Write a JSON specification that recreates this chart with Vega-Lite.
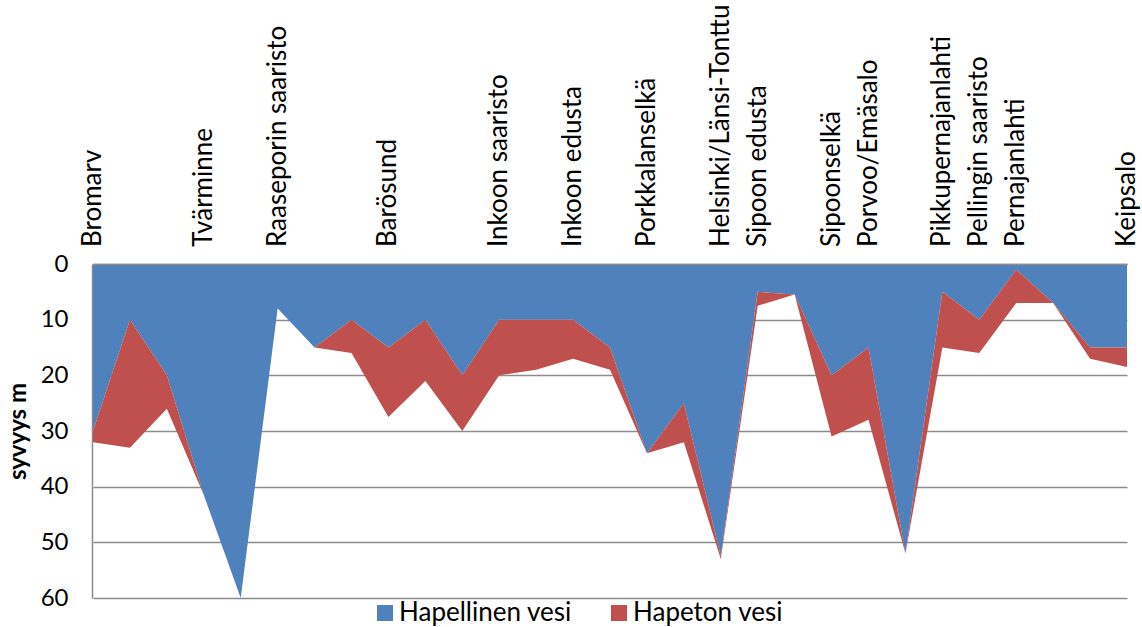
{
  "$schema": "https://vega.github.io/schema/vega-lite/v6.json",
  "width": 1034,
  "height": 334,
  "autosize": "none",
  "padding": {"left": 93, "top": 264, "right": 15, "bottom": 29},
  "background": "white",
  "config": {"view": {"stroke": null}, "font": "Lato"},
  "data": {
    "values": [
      {"pos": 0, "site": "Bromarv", "series": "Hapellinen vesi", "value": 30},
      {"pos": 0, "site": "Bromarv", "series": "Hapeton vesi", "value": 2},
      {"pos": 1, "site": "", "series": "Hapellinen vesi", "value": 10},
      {"pos": 1, "site": "", "series": "Hapeton vesi", "value": 23},
      {"pos": 2, "site": "", "series": "Hapellinen vesi", "value": 20},
      {"pos": 2, "site": "", "series": "Hapeton vesi", "value": 6},
      {"pos": 3, "site": "Tvärminne", "series": "Hapellinen vesi", "value": 41.5},
      {"pos": 3, "site": "Tvärminne", "series": "Hapeton vesi", "value": 0},
      {"pos": 4, "site": "", "series": "Hapellinen vesi", "value": 60},
      {"pos": 4, "site": "", "series": "Hapeton vesi", "value": 0},
      {"pos": 5, "site": "Raaseporin saaristo", "series": "Hapellinen vesi", "value": 8},
      {"pos": 5, "site": "Raaseporin saaristo", "series": "Hapeton vesi", "value": 0},
      {"pos": 6, "site": "", "series": "Hapellinen vesi", "value": 15},
      {"pos": 6, "site": "", "series": "Hapeton vesi", "value": 0},
      {"pos": 7, "site": "", "series": "Hapellinen vesi", "value": 10},
      {"pos": 7, "site": "", "series": "Hapeton vesi", "value": 6},
      {"pos": 8, "site": "Barösund", "series": "Hapellinen vesi", "value": 15},
      {"pos": 8, "site": "Barösund", "series": "Hapeton vesi", "value": 12.5},
      {"pos": 9, "site": "", "series": "Hapellinen vesi", "value": 10},
      {"pos": 9, "site": "", "series": "Hapeton vesi", "value": 11},
      {"pos": 10, "site": "", "series": "Hapellinen vesi", "value": 20},
      {"pos": 10, "site": "", "series": "Hapeton vesi", "value": 10},
      {"pos": 11, "site": "Inkoon saaristo", "series": "Hapellinen vesi", "value": 10},
      {"pos": 11, "site": "Inkoon saaristo", "series": "Hapeton vesi", "value": 10},
      {"pos": 12, "site": "", "series": "Hapellinen vesi", "value": 10},
      {"pos": 12, "site": "", "series": "Hapeton vesi", "value": 9},
      {"pos": 13, "site": "Inkoon edusta", "series": "Hapellinen vesi", "value": 10},
      {"pos": 13, "site": "Inkoon edusta", "series": "Hapeton vesi", "value": 7},
      {"pos": 14, "site": "", "series": "Hapellinen vesi", "value": 15},
      {"pos": 14, "site": "", "series": "Hapeton vesi", "value": 4},
      {"pos": 15, "site": "Porkkalanselkä", "series": "Hapellinen vesi", "value": 34},
      {"pos": 15, "site": "Porkkalanselkä", "series": "Hapeton vesi", "value": 0},
      {"pos": 16, "site": "", "series": "Hapellinen vesi", "value": 25},
      {"pos": 16, "site": "", "series": "Hapeton vesi", "value": 7},
      {"pos": 17, "site": "Helsinki/Länsi-Tonttu", "series": "Hapellinen vesi", "value": 52.5},
      {"pos": 17, "site": "Helsinki/Länsi-Tonttu", "series": "Hapeton vesi", "value": 0.5},
      {"pos": 18, "site": "Sipoon edusta", "series": "Hapellinen vesi", "value": 5},
      {"pos": 18, "site": "Sipoon edusta", "series": "Hapeton vesi", "value": 2.5},
      {"pos": 19, "site": "", "series": "Hapellinen vesi", "value": 5.5},
      {"pos": 19, "site": "", "series": "Hapeton vesi", "value": 0},
      {"pos": 20, "site": "Sipoonselkä", "series": "Hapellinen vesi", "value": 20},
      {"pos": 20, "site": "Sipoonselkä", "series": "Hapeton vesi", "value": 11},
      {"pos": 21, "site": "Porvoo/Emäsalo", "series": "Hapellinen vesi", "value": 15},
      {"pos": 21, "site": "Porvoo/Emäsalo", "series": "Hapeton vesi", "value": 13},
      {"pos": 22, "site": "", "series": "Hapellinen vesi", "value": 52},
      {"pos": 22, "site": "", "series": "Hapeton vesi", "value": 0},
      {"pos": 23, "site": "Pikkupernajanlahti", "series": "Hapellinen vesi", "value": 5},
      {"pos": 23, "site": "Pikkupernajanlahti", "series": "Hapeton vesi", "value": 10},
      {"pos": 24, "site": "Pellingin saaristo", "series": "Hapellinen vesi", "value": 10},
      {"pos": 24, "site": "Pellingin saaristo", "series": "Hapeton vesi", "value": 6},
      {"pos": 25, "site": "Pernajanlahti", "series": "Hapellinen vesi", "value": 1},
      {"pos": 25, "site": "Pernajanlahti", "series": "Hapeton vesi", "value": 6},
      {"pos": 26, "site": "", "series": "Hapellinen vesi", "value": 7},
      {"pos": 26, "site": "", "series": "Hapeton vesi", "value": 0},
      {"pos": 27, "site": "", "series": "Hapellinen vesi", "value": 15},
      {"pos": 27, "site": "", "series": "Hapeton vesi", "value": 2},
      {"pos": 28, "site": "Keipsalo", "series": "Hapellinen vesi", "value": 15},
      {"pos": 28, "site": "Keipsalo", "series": "Hapeton vesi", "value": 3.5}
    ]
  },
  "layer": [
    {
      "mark": {"type": "area", "interpolate": "linear"},
      "encoding": {
        "x": {
          "field": "pos",
          "type": "quantitative",
          "scale": {"domain": [0, 28], "nice": false, "zero": false},
          "axis": {"orient": "top", "labels": false, "ticks": false, "grid": false, "title": null, "domainColor": "#8c8c8c", "domainWidth": 1.5, "zindex": 1}
        },
        "y": {
          "field": "value",
          "type": "quantitative",
          "stack": "zero",
          "scale": {"domain": [0, 60], "reverse": true, "nice": false},
          "axis": {
            "values": [0, 10, 20, 30, 40, 50, 60],
            "title": "syvyys m",
            "ticks": false,
            "offset": 1,
            "labelPadding": 24,
            "labelFontSize": 24,
            "labelFont": "Lato",
            "labelColor": "black",
            "gridColor": "#8c8c8c",
            "gridWidth": 1.5,
            "domainColor": "#8c8c8c",
            "domainWidth": 1.5,
            "titleFont": "Lato",
            "titleFontSize": 24,
            "titleFontWeight": "bold",
            "titleColor": "black",
            "titleAngle": 270,
            "titleX": -74,
            "titleY": 167,
            "titleAlign": "center",
            "titleBaseline": "middle"
          }
        },
        "color": {
          "field": "series",
          "type": "nominal",
          "scale": {"domain": ["Hapellinen vesi", "Hapeton vesi"], "range": ["#4F81BD", "#C0504D"]},
          "legend": {
            "orient": "none",
            "legendX": 279,
            "legendY": 336,
            "direction": "horizontal",
            "title": null,
            "symbolType": "square",
            "symbolSize": 256,
            "symbolStrokeWidth": 0,
            "labelFontSize": 26,
            "labelFont": "Lato",
            "labelColor": "black",
            "labelOffset": 1,
            "columnPadding": 34,
            "padding": 0,
            "labelLimit": 400
          }
        },
        "order": {"field": "series", "sort": "ascending"}
      }
    },
    {
      "transform": [{"filter": "datum.series == 'Hapellinen vesi' && datum.site != ''"}],
      "mark": {"type": "text", "angle": 270, "align": "left", "baseline": "middle", "dx": 17, "fontSize": 26, "font": "Lato", "color": "black"},
      "encoding": {
        "x": {"field": "pos", "type": "quantitative"},
        "y": {"datum": 0},
        "text": {"field": "site"}
      }
    }
  ]
}
